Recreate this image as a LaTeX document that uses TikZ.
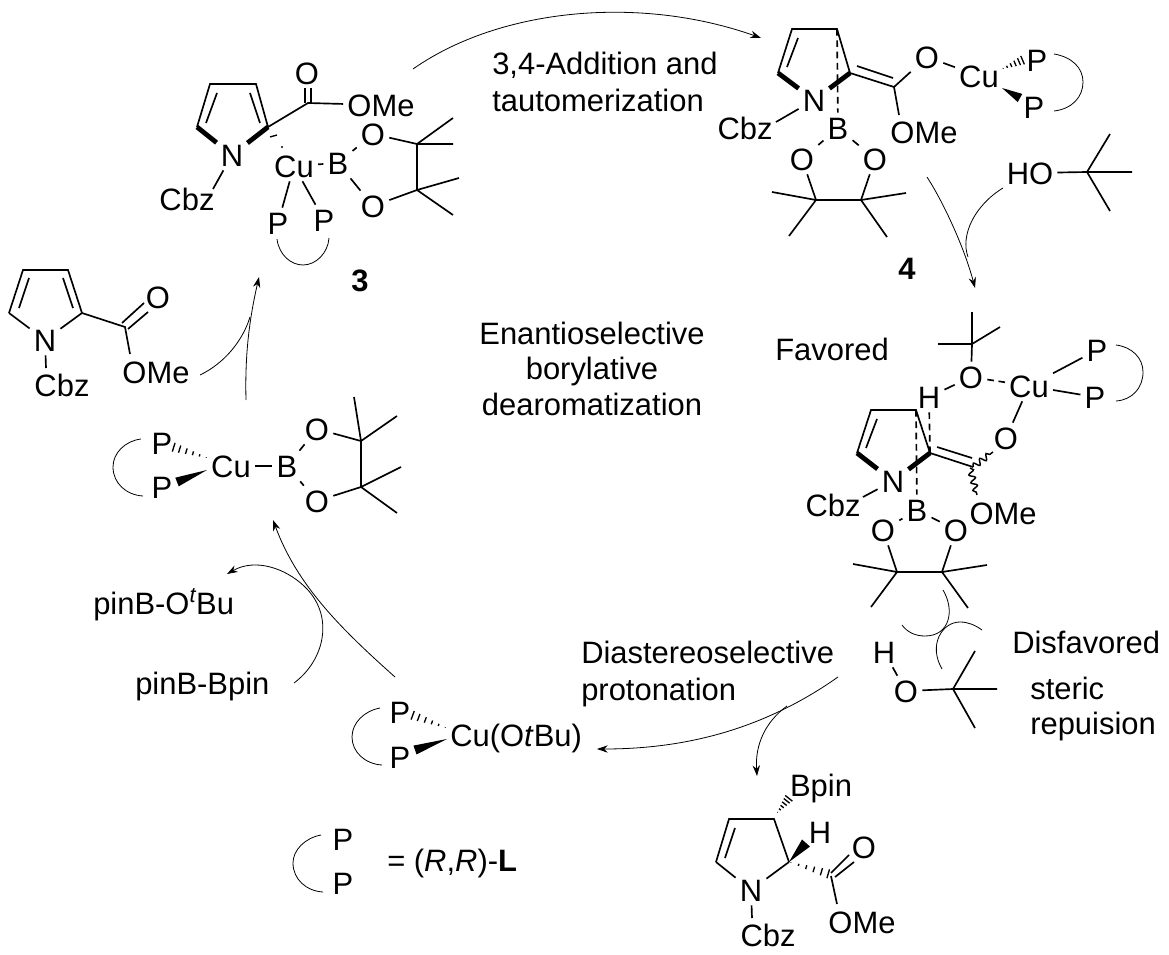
\documentclass[tikz,border=0pt]{standalone}
\usepackage{fontspec}
\setmainfont{Liberation Sans}
\usetikzlibrary{arrows.meta,calc,decorations.pathmorphing}
\tikzset{
  atom/.style={inner sep=3pt,font=\fontsize{23.2}{27}\selectfont,text height=16.6pt,text depth=0pt},
  tx/.style={inner sep=0pt,font=\fontsize{23.2}{27}\selectfont,text height=16.6pt,text depth=0pt},
  bnum/.style={inner sep=0pt,font=\fontsize{23.2}{27}\selectfont\bfseries,text height=16.6pt,text depth=0pt},
  bond/.style={line width=1.25pt},
  bold/.style={line width=3.6pt},
  dbond/.style={line width=1.25pt,dash pattern=on 5pt off 3.5pt},
  arw/.style={line width=0.6pt,-{Stealth[length=8pt,width=5.5pt]}},
  arc/.style={line width=0.6pt},
  wavy/.style={line width=1.1pt,decorate,decoration={snake,segment length=6pt,amplitude=2.2pt}}
}
\newcommand{\hashw}[3]{\foreach \t in {0.05,0.24,0.43,0.62,0.81,0.98}{
  \draw[line width=1pt] ($(#1)!\t!(#2)!{\t*#3}!90:(#2)$) -- ($(#1)!\t!(#2)!{\t*#3}!-90:(#2)$);}}
\newcommand{\wedgew}[3]{\fill (#1) -- ($(#2)!#3!90:(#1)$) -- ($(#2)!#3!-90:(#1)$) -- cycle;}
\begin{document}
\begin{tikzpicture}[x=0.75pt,y=-0.75pt]
\useasboundingbox (0,0) rectangle (1169,955);
%--- complex 3
\node[atom] (aN) at (232,155) {N};
\node[atom] (aO1) at (307,73) {O};
\node[atom] (aOMe) at (381,105) {OMe};
\node[atom] (aCbz) at (187,199) {Cbz};
\node[atom] (aCu) at (294,166) {Cu};
\node[atom] (aB) at (338,163) {B};
\node[atom] (aO2) at (373,134) {O};
\node[atom] (aO3) at (373,206) {O};
\node[atom] (aP1) at (278,223) {P};
\node[atom] (aP2) at (324,220) {P};
\node[bnum] (a3) at (360,280) {3};
\coordinate (a1) at (210,84); \coordinate (a2) at (256,84); \coordinate (a4) at (268,127); \coordinate (a5) at (197,127);
\coordinate (ac) at (308,103); \coordinate (ak1) at (417,144); \coordinate (ak2) at (417,190);
\coordinate (acz) at (213,189);
\draw[bond] (a5) -- (a1) -- (a2) -- (a4) -- (ac) -- (aOMe);
\draw[bond] (217,93) -- (206,123) (250,93) -- (260,123);
\draw[bold] (a5) -- (aN); \draw[bold] (a4) -- (aN);
\draw[bond] (aN) -- (acz);
\draw[bond] (305,103) -- (305,88) (311,103) -- (311,88);
\draw[bond] (aCu) -- (aB); \draw[bond] (aB) -- (aO2); \draw[bond] (aB) -- (aO3);
\draw[bond] (aO2) -- (ak1) -- (ak2) -- (aO3);
\draw[bond] (ak1) -- (453,118) (ak1) -- (453,144) (ak2) -- (459,178) (ak2) -- (453,215);
\draw[bond] (aCu) -- (aP1); \draw[bond] (aCu) -- (aP2);
\draw[line width=1pt] (270,137) -- (277,135); \fill (282,147) circle (0.8pt);
\coordinate (aa) at (277,239); \coordinate (ab) at (329,238);
\draw[arc] (aa) .. controls (279,255) and (291,265) .. (303,265) .. controls (316,265) and (328,253) .. (ab);
%--- complex 4
\node[atom] (bN) at (814,100) {N};
\node[atom] (bB) at (838,128) {B};
\node[atom] (bCbz) at (745,128) {Cbz};
\node[atom] (bO1) at (927,57) {O};
\node[atom] (bCu) at (979,76) {Cu};
\node[atom] (bP1) at (1037,60) {P};
\node[atom] (bP2) at (1034,107) {P};
\node[atom] (bOMe) at (924,132) {OMe};
\node[atom] (bO2) at (802,159) {O};
\node[atom] (bO3) at (875,159) {O};
\node[bnum] (b4) at (907,268) {4};
\node[atom] (bHO) at (1030,173) {HO};
\coordinate (b1) at (792,29); \coordinate (b2) at (837,29); \coordinate (b3) at (850,73); \coordinate (b5) at (778,73);
\coordinate (bc) at (894,87); \coordinate (bk1) at (816,200); \coordinate (bk2) at (861,200);
\coordinate (bme) at (899,115); \coordinate (bcz) at (776,122); \coordinate (bt) at (1087,172);
\draw[bond] (b5) -- (b1) -- (b2) -- (b3) -- (bc);
\draw[bond] (798,38) -- (787,67) (857,66) -- (893,78);
\draw[bold] (b5) -- (bN); \draw[bold] (b3) -- (bN);
\draw[bond] (bN) -- (bcz); \draw[bond] (bc) -- (bme);
\draw[bond] (bc) -- (bO1); \draw[bond] (bO1) -- (bCu);
\hashw{1002,69}{1023,60}{3.5pt}
\wedgew{1002,88}{1020,98}{3.5pt}
\draw[dbond] (b2) -- (bB);
\draw[bond] (bB) -- (bO2); \draw[bond] (bB) -- (bO3);
\draw[bond] (bO2) -- (bk1) -- (bk2) -- (bO3);
\draw[bond] (bk1) -- (772,192) (bk1) -- (789,236) (bk2) -- (906,193) (bk2) -- (887,237);
\draw[bond] (bHO) -- (bt);
\draw[bond] (bt) -- (1110,134) (bt) -- (1132,172) (bt) -- (1110,211);
\coordinate (ba) at (1054,54); \coordinate (bb) at (1054,111);
\draw[arc] (ba) .. controls (1072,57) and (1083,68) .. (1083,82) .. controls (1083,97) and (1072,109) .. (bb);
%--- favored complex
\node[tx,anchor=west] (cfav) at (775,349) {Favored};
\node[atom] (cO1) at (971,377) {O};
\node[atom] (cCu) at (1029,386) {Cu};
\node[atom] (cP1) at (1097,350) {P};
\node[atom] (cP2) at (1095,397) {P};
\node[atom] (cH) at (929,397) {H};
\node[atom] (cN) at (893,481) {N};
\node[atom] (cB) at (917,510) {B};
\node[atom] (cCbz) at (833,505) {Cbz};
\node[atom] (cO2) at (1006,438) {O};
\node[atom] (cOMe) at (1003,513) {OMe};
\node[atom] (cO3) at (883,530) {O};
\node[atom] (cO4) at (956,530) {O};
\coordinate (ct) at (972,344);
\coordinate (c1) at (871,410); \coordinate (c2) at (916,410); \coordinate (c3) at (930,453); \coordinate (c5) at (857,453);
\coordinate (cc) at (973,467); \coordinate (ck1) at (897,572); \coordinate (ck2) at (942,572); \coordinate (ccz) at (863,497);
\draw[bond] (ct) -- (972,312) (ct) -- (938,344) (ct) -- (1000,327); \draw[bond] (ct) -- (cO1);
\draw[dbond] (cO1) -- (cCu); \draw[bond] (cCu) -- (cP1); \draw[bond] (cCu) -- (cP2);
\draw[bond] (cH) -- (cO1); \draw[dbond] (cH) -- (c3);
\draw[bond] (c5) -- (c1) -- (c2) -- (c3) -- (cc);
\draw[bond] (877,419) -- (866,448) (937,447) -- (972,458);
\draw[bold] (c5) -- (cN); \draw[bold] (c3) -- (cN);
\draw[bond] (cN) -- (ccz);
\draw[dbond] (c2) -- (cB);
\draw[wavy] (cc) -- (993,452); \draw[wavy] (970,468) -- (977,495);
\draw[bond] (cO2) -- (cCu);
\draw[bond] (cB) -- (cO3); \draw[bond] (cB) -- (cO4);
\draw[bond] (cO3) -- (ck1) -- (ck2) -- (cO4);
\draw[bond] (ck1) -- (853,564) (ck1) -- (871,607) (ck2) -- (987,565) (ck2) -- (968,608);
\coordinate (ca) at (1116,345); \coordinate (cb) at (1116,401);
\draw[arc] (ca) .. controls (1132,347) and (1143,358) .. (1143,372) .. controls (1143,388) and (1132,400) .. (cb);
%--- disfavored tBuOH
\node[atom] (dH) at (884,652) {H};
\node[atom] (dO) at (906,691) {O};
\coordinate (dt) at (953,689);
\draw[bond] (dH) -- (dO); \draw[bond] (dO) -- (dt);
\draw[bond] (dt) -- (975,651) (dt) -- (997,689) (dt) -- (975,728);
\coordinate (d1) at (943,590); \coordinate (d2) at (902,625); \coordinate (d3) at (982,630); \coordinate (d4) at (942,669);
\draw[arc] (d1) .. controls (955,610) and (950,636) .. (925,636) .. controls (915,636) and (907,632) .. (d2);
\draw[arc] (d3) .. controls (975,625) and (968,622) .. (960,622) .. controls (942,622) and (928,645) .. (d4);
\node[tx,anchor=west] (ddis) at (1012,642) {Disfavored};
\node[tx,anchor=west] (dst) at (1030,688) {steric};
\node[tx,anchor=west] (drep) at (1030,723) {repuision};
%--- product
\node[atom] (eBp) at (821,785) {Bpin};
\node[atom] (eH) at (820,832) {H};
\node[atom] (eN) at (751,890) {N};
\node[atom] (eO) at (864,847) {O};
\node[atom] (eOMe) at (862,922) {OMe};
\node[atom] (eCbz) at (768,935) {Cbz};
\coordinate (e1) at (729,819); \coordinate (e2) at (774,819); \coordinate (e3) at (789,862); \coordinate (e5) at (716,862);
\coordinate (ec) at (831,876); \coordinate (eme) at (837,904); \coordinate (ecz) at (752,918);
\draw[bond] (e5) -- (e1) -- (e2) -- (e3); \draw[bond] (735,828) -- (725,858);
\draw[bond] (e5) -- (eN); \draw[bond] (e3) -- (eN); \draw[bond] (eN) -- (ecz);
\hashw{777,813}{789,798}{3.5pt}
\wedgew{e3}{806,843}{4pt}
\hashw{789,862}{829,874}{3.5pt}
\draw[bond] (ec) -- (eme);
\draw[bond] (831,873) -- (849,855) (835,877) -- (854,862);
%--- substrate
\node[atom] (fN) at (45,340) {N};
\node[atom] (fO) at (158,297) {O};
\node[atom] (fOMe) at (156,372) {OMe};
\node[atom] (fCbz) at (62,385) {Cbz};
\coordinate (f1) at (23,270); \coordinate (f2) at (68,270); \coordinate (f3) at (82,313); \coordinate (f5) at (9,313);
\coordinate (fc) at (125,327); \coordinate (fme) at (130,354); \coordinate (fcz) at (46,368);
\draw[bond] (f5) -- (f1) -- (f2) -- (f3) -- (fc) -- (fme);
\draw[bond] (29,278) -- (19,308) (63,278) -- (73,308);
\draw[bond] (f5) -- (fN); \draw[bond] (f3) -- (fN); \draw[bond] (fN) -- (fcz);
\draw[bond] (122,323) -- (144,303) (128,329) -- (148,312);
%--- Cu-Bpin
\node[atom] (gP1) at (162,443) {P};
\node[atom] (gP2) at (162,487) {P};
\node[atom] (gCu) at (231,466) {Cu};
\node[atom] (gB) at (287,466) {B};
\node[atom] (gO1) at (317,429) {O};
\node[atom] (gO2) at (317,501) {O};
\coordinate (gk1) at (361,441); \coordinate (gk2) at (361,487);
\hashw{208,458}{173,447}{3.5pt}
\wedgew{207,470}{177,482}{3.5pt}
\draw[bond] (gCu) -- (gB); \draw[bond] (gB) -- (gO1); \draw[bond] (gB) -- (gO2);
\draw[bond] (gO1) -- (gk1) -- (gk2) -- (gO2);
\draw[bond] (gk1) -- (354,397) (gk1) -- (397,416) (gk2) -- (401,467) (gk2) -- (397,513);
\coordinate (ga) at (141,439); \coordinate (gb) at (143,496);
\draw[arc] (ga) .. controls (125,441) and (113,453) .. (113,467) .. controls (113,483) and (126,495) .. (gb);
%--- Cu(OtBu)
\node[atom] (hP1) at (400,712) {P};
\node[atom] (hP2) at (400,757) {P};
\node[tx,anchor=west] (hCu) at (450,735) {Cu(O\textit{t}Bu)};
\hashw{447,728}{412,715}{3.5pt}
\wedgew{447,739}{415,750}{3.5pt}
\coordinate (ha) at (380,708); \coordinate (hb) at (382,765);
\draw[arc] (ha) .. controls (364,711) and (352,723) .. (352,737) .. controls (352,752) and (365,764) .. (hb);
%--- legend
\node[atom] (kP1) at (343,839) {P};
\node[atom] (kP2) at (343,883) {P};
\node[tx,anchor=west] (kL) at (387,860) {= (\textit{R},\textit{R})-\textbf{L}};
\coordinate (ka) at (321,835); \coordinate (kb) at (323,892);
\draw[arc] (ka) .. controls (305,838) and (293,850) .. (293,863) .. controls (293,879) and (306,891) .. (kb);
%--- texts
\node[tx,anchor=west] (t1) at (492,63) {3,4-Addition and};
\node[tx,anchor=west] (t2) at (492,100) {tautomerization};
\node[tx] (t3) at (592,333) {Enantioselective};
\node[tx] (t4) at (592,368) {borylative};
\node[tx] (t5) at (592,404) {dearomatization};
\node[tx,anchor=west] (t6) at (581,652) {Diastereoselective};
\node[tx,anchor=west] (t7) at (581,689) {protonation};
\node[tx,anchor=west] (t8) at (93,603) {pinB-O\textsuperscript{\itshape t}Bu};
\node[tx,anchor=west] (t9) at (135,683) {pinB-Bpin};
%--- curved arrows
\coordinate (p1) at (413,69); \coordinate (p2) at (761,38);
\draw[arw] (p1) .. controls (500,8) and (640,-5) .. (p2);
\coordinate (q1) at (927,177); \coordinate (q2) at (975,288); \coordinate (q3) at (1003,188); \coordinate (q4) at (968,257);
\draw[arw] (q1) .. controls (945,205) and (965,250) .. (q2);
\draw[arc] (q3) .. controls (975,205) and (960,235) .. (q4);
\coordinate (r1) at (838,677); \coordinate (r2) at (597,749); \coordinate (r3) at (787,706); \coordinate (r4) at (757,776);
\draw[arw] (r1) .. controls (760,732) and (680,749) .. (r2);
\draw[arw] (r3) .. controls (765,722) and (755,745) .. (r4);
\coordinate (s1) at (395,677); \coordinate (s2) at (273,520);
\draw[arw] (s1) .. controls (340,628) and (297,585) .. (s2);
\coordinate (u1) at (294,683); \coordinate (u2) at (227,574);
\draw[arw] (u1) .. controls (325,660) and (335,615) .. (304,586) .. controls (285,568) and (255,558) .. (u2);
\coordinate (v1) at (246,400); \coordinate (v2) at (259,277); \coordinate (v3) at (200,375); \coordinate (v4) at (250,317);
\draw[arw] (v1) .. controls (245,360) and (248,325) .. (v2);
\draw[arc] (v3) .. controls (225,363) and (243,340) .. (v4);
\end{tikzpicture}
\end{document}
